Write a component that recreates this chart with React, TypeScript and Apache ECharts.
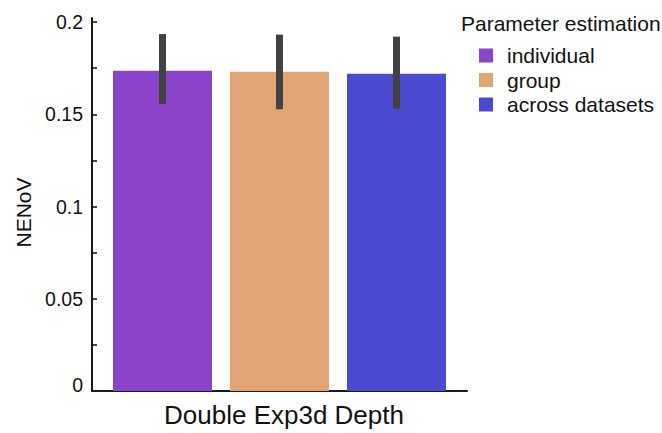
import React, { useEffect, useRef } from "react";
import * as echarts from "echarts";

// Mean NENoV per parameter-estimation scheme, with the ends of each error bar
const category = ["Double Exp3d Depth"];
const groups = ["individual", "group", "across datasets"];
const means = [0.1736, 0.173, 0.172];
const errLow = [0.1556, 0.1527, 0.1531];
const errHigh = [0.1935, 0.1932, 0.1921];
const colors = ["#8A43C9", "#E0A572", "#494AD0"];
const majorTicks = [0, 0.05, 0.1, 0.15, 0.2];
const allTicks = [0, 0.025, 0.05, 0.075, 0.1, 0.125, 0.15, 0.175, 0.2];

const FONT = "'Liberation Sans', Arial, Helvetica, sans-serif";
const BAR_WIDTH = 99;
const BAR_GAP = 18;
const AXIS_COLOR = "#1a1a1a";

export default function App() {
  const ref = useRef<HTMLDivElement>(null);

  useEffect(() => {
    if (!ref.current) return;
    const chart = echarts.init(ref.current, null, { renderer: "svg" });

    const barSeries = groups.map((name, i) => ({
      type: "bar",
      name,
      data: [means[i]],
      barWidth: BAR_WIDTH,
      barGap: `${(BAR_GAP / BAR_WIDTH) * 100}%`,
      itemStyle: { color: colors[i] },
      z: 2,
    }));

    const errorSeries = {
      type: "custom",
      name: "error",
      data: groups.map((_, i) => [0, errLow[i], errHigh[i], i]),
      encode: { x: 0, y: [1, 2] },
      z: 5,
      renderItem: (_params: any, api: any) => {
        const lo = api.coord([api.value(0), api.value(1)]);
        const hi = api.coord([api.value(0), api.value(2)]);
        const idx = api.value(3);
        const offset = (idx - (groups.length - 1) / 2) * (BAR_WIDTH + BAR_GAP);
        const w = 7;
        return {
          type: "rect",
          shape: { x: lo[0] + offset - w / 2, y: hi[1], width: w, height: lo[1] - hi[1] },
          style: { fill: "#424242" },
        };
      },
    };

    chart.setOption({
      animation: false,
      textStyle: { fontFamily: FONT },
      title: {
        text: "Parameter estimation",
        left: 461,
        top: 13,
        padding: 0,
        textStyle: { fontFamily: FONT, fontSize: 21, fontWeight: "normal", color: "#111", lineHeight: 21 },
      },
      legend: {
        data: groups,
        orient: "vertical",
        left: 479,
        top: 45,
        padding: 0,
        itemWidth: 14,
        itemHeight: 14,
        itemGap: 3.5,
        icon: "rect",
        textStyle: { fontFamily: FONT, fontSize: 21, color: "#111", lineHeight: 21, padding: [0, 0, 0, 9] },
      },
      grid: { left: 92, right: 195, top: 18, bottom: 40, containLabel: false },
      xAxis: {
        type: "category",
        data: category,
        name: category[0],
        nameLocation: "middle",
        nameGap: 11,
        nameTextStyle: { fontFamily: FONT, fontSize: 26, color: "#111", verticalAlign: "top", padding: [0, 0, 0, 9] },
        axisLine: { lineStyle: { color: AXIS_COLOR, width: 2 } },
        axisTick: { show: false },
        axisLabel: { show: false },
        splitLine: { show: false },
      },
      yAxis: {
        type: "value",
        min: 0,
        max: 0.2022,
        name: "NENoV",
        nameLocation: "middle",
        nameGap: 57,
        nameTextStyle: { fontFamily: FONT, fontSize: 21, color: "#111", padding: [0, 0, 0, -16] },
        axisLine: { show: true, lineStyle: { color: AXIS_COLOR, width: 2 } },
        axisTick: {
          show: true,
          inside: true,
          length: 5,
          customValues: allTicks,
          lineStyle: { color: AXIS_COLOR, width: 1.6 },
        },
        axisLabel: {
          customValues: majorTicks,
          margin: 9,
          fontFamily: FONT,
          fontSize: 19.5,
          color: "#111",
          formatter: (v: number) => (v === 0 ? "{z|0}" : String(v)),
          rich: { z: { fontFamily: FONT, fontSize: 19.5, color: "#111", padding: [0, 0, 12, 0] } },
        },
        splitLine: { show: false },
      },
      series: [...barSeries, errorSeries],
    });

    return () => chart.dispose();
  }, []);

  return (
    <div
      ref={ref}
      style={{ position: "fixed", left: 0, top: 0, width: 662, height: 433, background: "#fff" }}
    />
  );
}
